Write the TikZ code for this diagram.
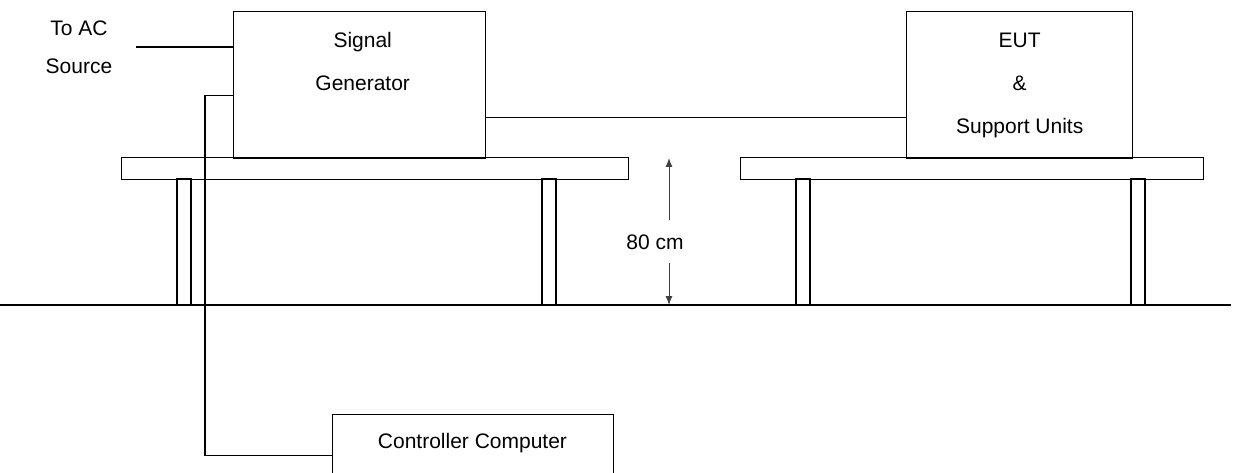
\documentclass[tikz,border=0pt]{standalone}
\usepackage{fontspec}
\setmainfont{Liberation Sans}
\usetikzlibrary{arrows.meta, positioning}
\tikzset{
  box/.style={rectangle,draw,line width=1.4pt,inner sep=0pt,anchor=north west},
  lbl/.style={align=center,inner sep=0pt,font=\fontsize{21}{43}\selectfont},
  wire/.style={line width=1.4pt},
  dim/.style={-{Latex[length=9pt,width=7pt]},line width=1pt,black!75}
}

\begin{document}
\begin{tikzpicture}[x=1pt,y=-1pt]
\useasboundingbox (0,0) rectangle (1236,473);
\node[box,minimum width=507pt,minimum height=22pt] (tabA) at (121,157) {};
\node[box,minimum width=463pt,minimum height=22pt] (tabB) at (740,157) {};
\foreach \x in {177,542,796,1131}
  \draw[wire] (\x,179) rectangle (\x+14,305);
\draw[wire] (0,305) coordinate (floorL) -- (1231,305) coordinate (floorR);
\node[box,minimum width=252pt,minimum height=147pt] (sg) at (233,11) {};
\node[lbl,below=21pt of sg.north,xshift=3pt] (sgtxt) {Signal\\Generator};
\node[box,minimum width=226pt,minimum height=147pt] (eut) at (906,11) {};
\node[lbl,below=21.5pt of eut.north] (euttxt) {EUT\\\&\\Support Units};
\node[box,minimum width=281pt,minimum height=82pt] (cc) at (332,414) {};
\node[lbl] (cctxt) at (472.5,443) {Controller Computer};
\node[lbl,anchor=north,font=\fontsize{21}{38}\selectfont] (actxt) at (79,20.5) {To AC\\Source};
\coordinate (acend) at (136,47);
\draw[wire] (acend) -- (acend -| sg.west);
\draw[wire] ([yshift=-32.5pt]sg.east) -- ([yshift=-32.5pt]eut.west);
\draw[wire] ([yshift=-10.5pt]sg.west) -- ++(-28,0) |- (cc.west);
\node[lbl] (dimtxt) at (655,242.5) {80 cm};
\coordinate (dimtop) at (669,158);
\coordinate (dimbot) at (669,305);
\coordinate (dimA) at (669,220);
\coordinate (dimB) at (669,263);
\draw[dim] (dimA) -- (dimtop);
\draw[dim] (dimB) -- (dimbot);
\end{tikzpicture}
\end{document}
